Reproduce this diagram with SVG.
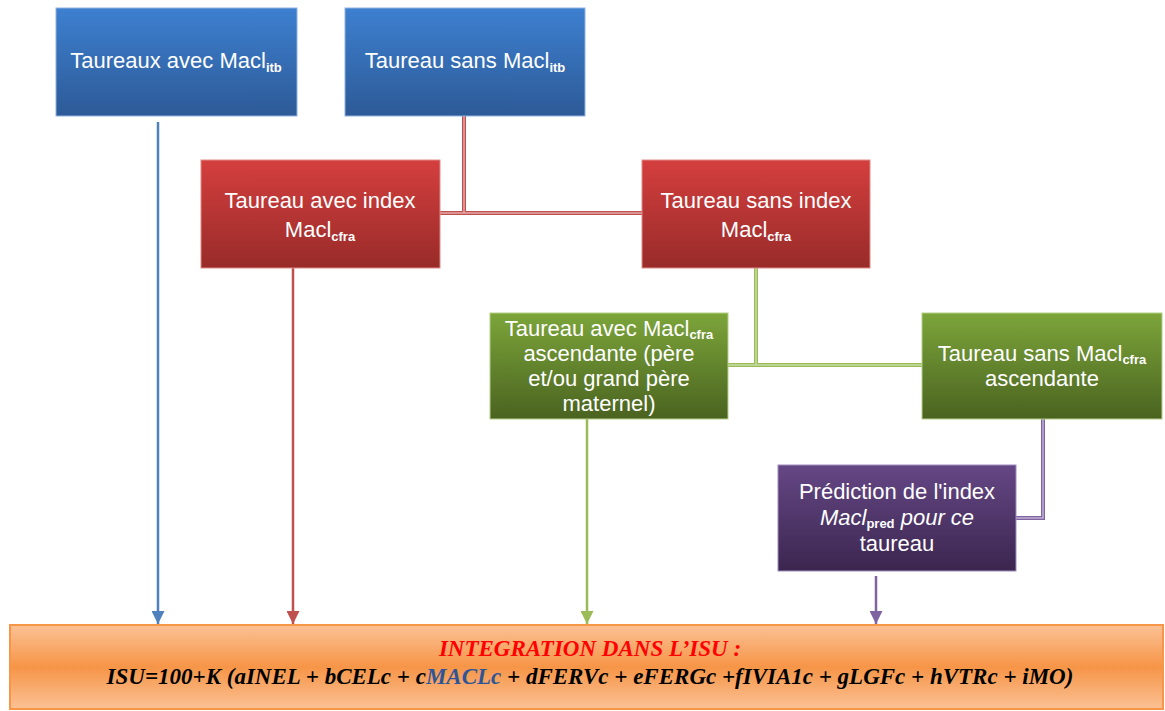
<svg xmlns="http://www.w3.org/2000/svg" width="1165" height="711" viewBox="0 0 1165 711">
<style>
.lbl{font-family:"Liberation Sans",Arial,sans-serif;font-size:22px;fill:#fff;text-anchor:middle}
.sub{font-size:13px;font-weight:bold}
.isu{font-family:"Liberation Serif","Times New Roman",serif;font-weight:bold;font-style:italic;font-size:23px;text-anchor:middle}
</style>
<defs>
<linearGradient id="gB" x1="0" y1="0" x2="0" y2="1"><stop offset="0" stop-color="#3d80d0"/><stop offset="1" stop-color="#2d5a97"/></linearGradient>
<linearGradient id="gR" x1="0" y1="0" x2="0" y2="1"><stop offset="0" stop-color="#d43f3e"/><stop offset="1" stop-color="#982b29"/></linearGradient>
<linearGradient id="gG" x1="0" y1="0" x2="0" y2="1"><stop offset="0" stop-color="#7ca53a"/><stop offset="1" stop-color="#4a6320"/></linearGradient>
<linearGradient id="gP" x1="0" y1="0" x2="0" y2="1"><stop offset="0" stop-color="#654785"/><stop offset="1" stop-color="#3b264f"/></linearGradient>
<linearGradient id="gO" x1="0" y1="0" x2="0" y2="1"><stop offset="0" stop-color="#fbc195"/><stop offset="0.5" stop-color="#f69547"/><stop offset="1" stop-color="#fbc195"/></linearGradient>
<marker id="aB" viewBox="0 0 10 10" refX="10" refY="5" markerWidth="5.2" markerHeight="5.2" orient="auto" markerUnits="strokeWidth"><path d="M0,0 L10,5 L0,10 z" fill="#4f81bd"/></marker>
<marker id="aR" viewBox="0 0 10 10" refX="10" refY="5" markerWidth="5.2" markerHeight="5.2" orient="auto" markerUnits="strokeWidth"><path d="M0,0 L10,5 L0,10 z" fill="#c0504d"/></marker>
<marker id="aG" viewBox="0 0 10 10" refX="10" refY="5" markerWidth="5.2" markerHeight="5.2" orient="auto" markerUnits="strokeWidth"><path d="M0,0 L10,5 L0,10 z" fill="#9bbb59"/></marker>
<marker id="aP" viewBox="0 0 10 10" refX="10" refY="5" markerWidth="5.2" markerHeight="5.2" orient="auto" markerUnits="strokeWidth"><path d="M0,0 L10,5 L0,10 z" fill="#8064a2"/></marker>
</defs>
<rect width="1165" height="711" fill="#fff"/>
<g id="connectors" fill="none">
<line x1="158" y1="122" x2="158" y2="624" stroke="#4f81bd" stroke-width="2.5" marker-end="url(#aB)"/>
<line x1="293" y1="262" x2="293" y2="624" stroke="#c0504d" stroke-width="2.5" marker-end="url(#aR)"/>
<line x1="587" y1="419" x2="587" y2="624" stroke="#9bbb59" stroke-width="2.5" marker-end="url(#aG)"/>
<line x1="876" y1="576" x2="876" y2="624" stroke="#8064a2" stroke-width="2.5" marker-end="url(#aP)"/>
<path d="M464,116 V213 M440,213 H642" stroke="#c0504d" stroke-width="4"/>
<path d="M464,116 V213 M440,213 H642" stroke="#e2a9a7" stroke-width="1.5"/>
<path d="M756,268 V365 M728,365 H922" stroke="#9bbb59" stroke-width="4"/>
<path d="M756,268 V365 M728,365 H922" stroke="#c9dea5" stroke-width="1.5"/>
<path d="M1043,419 V518 H1016" stroke="#8064a2" stroke-width="4"/>
<path d="M1043,419 V518 H1016" stroke="#bfb0d3" stroke-width="1.5"/>
</g>
<g id="n1"><rect x="56" y="8" width="241" height="108" fill="url(#gB)" stroke="#8fb2e0" stroke-width="1"/>
<text class="lbl" x="176" y="68">Taureaux avec Macl<tspan class="sub" dy="4">itb</tspan></text></g>
<g id="n2"><rect x="345" y="8" width="240" height="108" fill="url(#gB)" stroke="#8fb2e0" stroke-width="1"/>
<text class="lbl" x="465" y="68">Taureau sans Macl<tspan class="sub" dy="4">itb</tspan></text></g>
<g id="n3"><rect x="201" y="160" width="239" height="108" fill="url(#gR)" stroke="#e08b89" stroke-width="1"/>
<text class="lbl" x="320" y="208">Taureau avec index</text>
<text class="lbl" x="320" y="237">Macl<tspan class="sub" dy="4">cfra</tspan></text></g>
<g id="n4"><rect x="642" y="160" width="228" height="108" fill="url(#gR)" stroke="#e08b89" stroke-width="1"/>
<text class="lbl" x="756" y="208">Taureau sans index</text>
<text class="lbl" x="756" y="237">Macl<tspan class="sub" dy="4">cfra</tspan></text></g>
<g id="n5"><rect x="490" y="313" width="238" height="106" fill="url(#gG)" stroke="#b4cf88" stroke-width="1"/>
<text class="lbl" x="609" y="336">Taureau avec Macl<tspan class="sub" dy="3">cfra</tspan></text>
<text class="lbl" x="609" y="361">ascendante (père</text>
<text class="lbl" x="609" y="386">et/ou grand père</text>
<text class="lbl" x="609" y="411">maternel)</text></g>
<g id="n6"><rect x="922" y="313" width="240" height="106" fill="url(#gG)" stroke="#b4cf88" stroke-width="1"/>
<text class="lbl" x="1042" y="361">Taureau sans Macl<tspan class="sub" dy="3">cfra</tspan></text>
<text class="lbl" x="1042" y="386">ascendante</text></g>
<g id="n7"><rect x="778" y="465" width="238" height="106" fill="url(#gP)" stroke="#a08cbf" stroke-width="1"/>
<text class="lbl" x="897" y="499">Prédiction de l'index</text>
<text class="lbl" x="897" y="525"><tspan font-style="italic">Macl</tspan><tspan class="sub" dy="3">pred</tspan><tspan dy="-3" font-style="italic"> pour ce</tspan></text>
<text class="lbl" x="897" y="551">taureau</text></g>
<g id="n8"><rect x="10" y="625" width="1153" height="84" fill="url(#gO)" stroke="#f79646" stroke-width="2"/>
<text class="isu" x="590" y="656" fill="#ff0000">INTEGRATION DANS L’ISU :</text>
<text class="isu" x="590" y="684" fill="#000">ISU=100+K (aINEL + bCELc + c<tspan fill="#2e5597">MACLc</tspan> + dFERVc + eFERGc +fIVIA1c +  gLGFc + hVTRc + iMO)</text></g>
</svg>
